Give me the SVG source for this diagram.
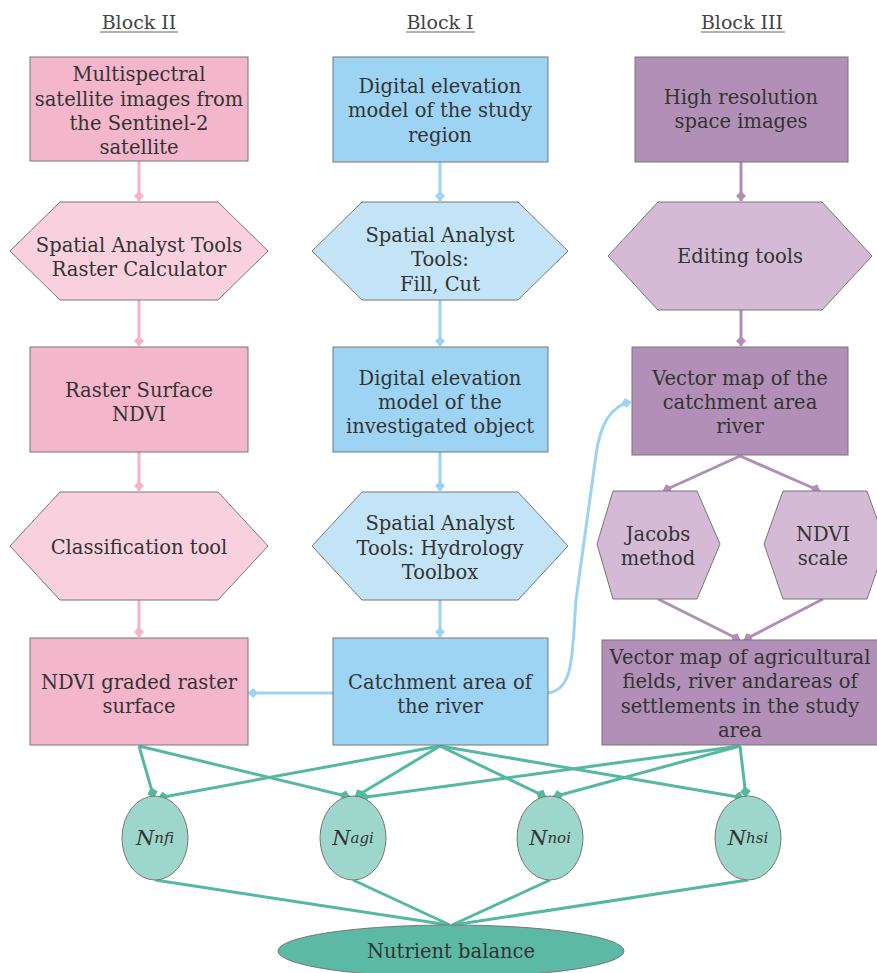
<svg xmlns="http://www.w3.org/2000/svg" width="877" height="973" viewBox="0 0 877 973">
<style>
text{font-family:"DejaVu Serif","Liberation Serif",serif;font-size:19.5px;fill:#333;text-anchor:middle;dominant-baseline:central}
.hd{font-size:19px;fill:#444}
.ul{stroke:#666;stroke-width:1.2}
.s{stroke:#777;stroke-width:1}
.pr{fill:#f4b6cb}.ph{fill:#f9d1de}
.br{fill:#9ed4f3}.bh{fill:#c3e4f6}
.ur{fill:#b18fb7}.uh{fill:#d4bad5}
.ts{fill:#9dd6ca}.tb{fill:#5cb9a6}
.cp{fill:none;stroke:#f4b3c8;stroke-width:3;marker-end:url(#mp)}
.cb{fill:none;stroke:#9cd3f2;stroke-width:3;marker-end:url(#mb)}
.cu{fill:none;stroke:#b08eb6;stroke-width:3;marker-end:url(#mu)}
.cg{fill:none;stroke:#55b8a0;stroke-width:3;marker-end:url(#mg)}
.cg2{fill:none;stroke:#55b8a0;stroke-width:3}
.it{font-style:italic;font-size:21px}
.sm{font-size:15px}
</style>
<defs>
<marker id="mp" viewBox="0 0 12 12" markerUnits="userSpaceOnUse" markerWidth="12" markerHeight="12" refX="11" refY="6" orient="auto"><path d="M1,6 L6,1 L11,6 L6,11Z" fill="#f4b3c8"/></marker>
<marker id="mb" viewBox="0 0 12 12" markerUnits="userSpaceOnUse" markerWidth="12" markerHeight="12" refX="11" refY="6" orient="auto"><path d="M1,6 L6,1 L11,6 L6,11Z" fill="#9cd3f2"/></marker>
<marker id="mu" viewBox="0 0 12 12" markerUnits="userSpaceOnUse" markerWidth="12" markerHeight="12" refX="11" refY="6" orient="auto"><path d="M1,6 L6,1 L11,6 L6,11Z" fill="#b08eb6"/></marker>
<marker id="mg" viewBox="0 0 12 12" markerUnits="userSpaceOnUse" markerWidth="13" markerHeight="13" refX="11" refY="6" orient="auto"><path d="M1,6 L6,1 L11,6 L6,11Z" fill="#55b8a0"/></marker>
</defs>

<g id="headers">
<text class="hd" x="139" y="22">Block II</text><line class="ul" x1="100" y1="32" x2="178" y2="32"/>
<text class="hd" x="440" y="22">Block I</text><line class="ul" x1="406" y1="32" x2="475" y2="32"/>
<text class="hd" x="742" y="22">Block III</text><line class="ul" x1="701" y1="32" x2="785" y2="32"/>
</g>

<g id="connectors">
<line class="cp" x1="139" y1="161" x2="139" y2="201"/>
<line class="cp" x1="139" y1="300" x2="139" y2="346"/>
<line class="cp" x1="139" y1="452" x2="139" y2="491"/>
<line class="cp" x1="139" y1="600" x2="139" y2="637"/>
<line class="cb" x1="440" y1="162" x2="440" y2="201"/>
<line class="cb" x1="440" y1="300" x2="440" y2="346"/>
<line class="cb" x1="440" y1="452" x2="440" y2="491"/>
<line class="cb" x1="440" y1="600" x2="440" y2="637"/>
<line class="cb" x1="333" y1="693" x2="248" y2="693"/>
<path class="cb" d="M548,693 C575,690 572,650 576,600 L596,455 C600,425 610,406 631,402"/>
<line class="cu" x1="741" y1="162" x2="741" y2="201"/>
<line class="cu" x1="741" y1="310" x2="741" y2="346"/>
<line class="cu" x1="740" y1="456" x2="663" y2="491"/>
<line class="cu" x1="740" y1="456" x2="820" y2="491"/>
<line class="cu" x1="658" y1="599" x2="740" y2="640"/>
<line class="cu" x1="823" y1="599" x2="744" y2="640"/>
<line class="cg" x1="139" y1="746" x2="154" y2="798"/>
<line class="cg" x1="139" y1="746" x2="350" y2="797"/>
<line class="cg" x1="440" y1="746" x2="158" y2="798"/>
<line class="cg" x1="440" y1="746" x2="355" y2="797"/>
<line class="cg" x1="440" y1="746" x2="546" y2="797"/>
<line class="cg" x1="440" y1="746" x2="744" y2="798"/>
<line class="cg" x1="740" y1="746" x2="359" y2="798"/>
<line class="cg" x1="740" y1="746" x2="553" y2="797"/>
<line class="cg" x1="740" y1="746" x2="746" y2="797"/>
<line class="cg2" x1="155" y1="880" x2="449" y2="925"/>
<line class="cg2" x1="353" y1="880" x2="450" y2="925"/>
<line class="cg2" x1="550" y1="880" x2="452" y2="925"/>
<line class="cg2" x1="748" y1="880" x2="453" y2="925"/>
</g>

<g id="b2-sat">
<rect class="pr s" x="30" y="57" width="218" height="104"/>
<text x="139" y="74">Multispectral</text><text x="139" y="99">satellite images from</text><text x="139" y="123">the Sentinel-2</text><text x="139" y="147">satellite</text>
</g>
<g id="b2-calc">
<polygon class="ph s" points="10,251 60,202 218,202 268,251 218,300 60,300"/>
<text x="139" y="245">Spatial Analyst Tools</text><text x="139" y="269">Raster Calculator</text>
</g>
<g id="b2-ndvi">
<rect class="pr s" x="30" y="347" width="218" height="105"/>
<text x="139" y="390">Raster Surface</text><text x="139" y="414">NDVI</text>
</g>
<g id="b2-class">
<polygon class="ph s" points="10,546 60,492 218,492 268,546 218,600 60,600"/>
<text x="139" y="547">Classification tool</text>
</g>
<g id="b2-graded">
<rect class="pr s" x="30" y="638" width="218" height="107"/>
<text x="139" y="682">NDVI graded raster</text><text x="139" y="706">surface</text>
</g>

<g id="b1-dem">
<rect class="br s" x="333" y="57" width="215" height="105"/>
<text x="440" y="86">Digital elevation</text><text x="440" y="110">model of the study</text><text x="440" y="135">region</text>
</g>
<g id="b1-fill">
<polygon class="bh s" points="312,251 362,202 518,202 568,251 518,300 362,300"/>
<text x="440" y="235">Spatial Analyst</text><text x="440" y="259">Tools:</text><text x="440" y="284">Fill, Cut</text>
</g>
<g id="b1-dem2">
<rect class="br s" x="333" y="347" width="215" height="105"/>
<text x="440" y="378">Digital elevation</text><text x="440" y="402">model of the</text><text x="440" y="426">investigated object</text>
</g>
<g id="b1-hydro">
<polygon class="bh s" points="312,546 362,492 518,492 568,546 518,600 362,600"/>
<text x="440" y="523">Spatial Analyst</text><text x="440" y="548">Tools: Hydrology</text><text x="440" y="572">Toolbox</text>
</g>
<g id="b1-catch">
<rect class="br s" x="333" y="638" width="215" height="107"/>
<text x="440" y="682">Catchment area of</text><text x="440" y="706">the river</text>
</g>

<g id="b3-img">
<rect class="ur s" x="635" y="57" width="213" height="105"/>
<text x="741" y="97">High resolution</text><text x="741" y="121">space images</text>
</g>
<g id="b3-edit">
<polygon class="uh s" points="608,256 658,202 822,202 872,256 822,310 658,310"/>
<text x="740" y="256">Editing tools</text>
</g>
<g id="b3-vec">
<rect class="ur s" x="632" y="347" width="216" height="108"/>
<text x="740" y="378">Vector map of the</text><text x="740" y="402">catchment area</text><text x="740" y="426">river</text>
</g>
<g id="b3-jacobs">
<polygon class="uh s" points="597,544 613,491 697,491 720,544 697,599 613,599"/>
<text x="658" y="534">Jacobs</text><text x="658" y="558">method</text>
</g>
<g id="b3-ndvi">
<polygon class="uh s" points="764,544 783,491 867,491 886,544 867,599 783,599"/>
<text x="823" y="534">NDVI</text><text x="823" y="558">scale</text>
</g>
<g id="b3-agri">
<rect class="ur s" x="602" y="640" width="280" height="105"/>
<text x="740" y="657">Vector map of agricultural</text><text x="740" y="681">fields, river andareas of</text><text x="740" y="706">settlements in the study</text><text x="740" y="730">area</text>
</g>

<g id="n-nfi">
<ellipse class="ts s" cx="155" cy="838" rx="33" ry="42"/>
<text class="it" x="155" y="838">N<tspan class="sm">nfi</tspan></text>
</g>
<g id="n-agi">
<ellipse class="ts s" cx="353" cy="838" rx="33" ry="42"/>
<text class="it" x="353" y="838">N<tspan class="sm">agi</tspan></text>
</g>
<g id="n-noi">
<ellipse class="ts s" cx="550" cy="838" rx="33" ry="42"/>
<text class="it" x="550" y="838">N<tspan class="sm">noi</tspan></text>
</g>
<g id="n-hsi">
<ellipse class="ts s" cx="748" cy="838" rx="33" ry="42"/>
<text class="it" x="748" y="838">N<tspan class="sm">hsi</tspan></text>
</g>
<g id="balance">
<ellipse class="tb s" cx="451" cy="951" rx="173" ry="26"/>
<text x="451" y="951">Nutrient balance</text>
</g>
</svg>
